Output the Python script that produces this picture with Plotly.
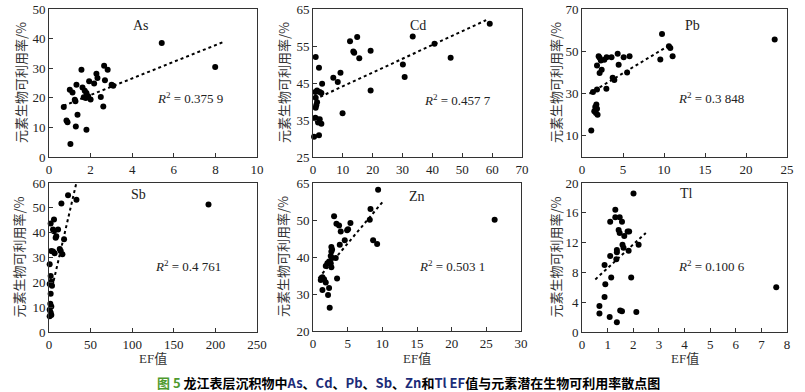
import plotly.graph_objects as go

# ---------------- data ----------------
as_ef = [5.42, 7.99, 2.65, 2.82, 1.56, 2.28, 2.33, 2.69, 1.93, 2.17, 1.32, 3.01, 3.09, 1.0, 1.13, 1.61, 1.72, 1.80, 1.24, 1.27,
         1.67, 1.77, 1.88, 2.0, 2.49, 2.61, 0.71, 1.37, 0.84, 0.89, 1.29, 1.80, 1.03]
as_bio = [38.5, 30.4, 30.8, 29.5, 29.5, 28.1, 26.7, 25.9, 25.6, 24.8, 24.4, 24.4, 24.1, 22.7, 21.8, 23.5, 22.4, 21.6, 19.3, 18.8,
          20.2, 19.9, 20.5, 19.4, 20.3, 17.1, 16.9, 14.3, 12.3, 11.7, 10.3, 9.2, 4.4]
as_trend_x = [0.7, 8.4]
as_trend_y = [17.3, 38.9]

cd_ef = [59.2, 33.4, 40.7, 46.1, 12.4, 14.8, 13.5, 13.8, 15.5, 19.3, 30.1, 30.7, 9.2, 6.8, 8.3, 19.3, 9.9, 0.9, 2.0, 3.05,
         0.8, 1.36, 2.25, 2.8, 0.9, 1.36, 1.1, 0.9, 0.8, 1.36, 2.25, 1.7, 2.8, 2.0, 0.35]
cd_bio = [61.0, 57.6, 55.6, 51.8, 56.3, 57.4, 53.5, 53.2, 51.7, 53.7, 50.0, 46.6, 47.8, 46.4, 45.3, 43.0, 36.8, 52.0, 49.1, 44.8,
          42.6, 43.0, 42.6, 42.3, 41.0, 39.8, 39.0, 38.3, 35.6, 35.2, 35.2, 34.3, 34.0, 30.9, 30.5]
cd_trend_x = [0.6, 58.0]
cd_trend_y = [40.6, 62.0]

pb_ef = [23.5, 9.76, 10.6, 10.77, 9.55, 11.05, 2.03, 2.15, 1.83, 2.3, 3.0, 3.6, 4.35, 5.08, 5.8, 2.72, 4.47, 2.15, 2.4, 2.97,
         3.74, 3.94, 5.5, 1.34, 1.83, 1.62, 1.5, 1.7, 1.83, 1.75, 1.9, 1.13]
pb_bio = [55.6, 58.2, 52.4, 51.6, 46.1, 47.7, 47.7, 46.9, 43.3, 45.7, 47.2, 47.2, 48.8, 47.2, 47.7, 46.0, 43.6, 39.7, 41.3, 32.3,
          37.5, 36.4, 40.0, 30.8, 31.9, 23.7, 21.6, 20.8, 22.8, 24.8, 20.0, 12.5]
pb_trend_x = [0.9, 10.85]
pb_trend_y = [30.0, 53.3]

sb_ef = [191.7, 22.9, 33.0, 14.9, 6.0, 2.0, 4.8, 6.0, 10.9, 8.8, 8.0, 18.1, 12.9, 14.1, 16.1, 2.8, 4.8, 6.8, 0.8, 2.0,
         2.8, 0.8, 3.6, 2.0, 1.6, 2.8, 0.8, 2.0, 2.8, 0.8]
sb_bio = [51.3, 55.1, 53.3, 51.7, 45.3, 43.7, 41.3, 40.6, 41.3, 38.6, 38.0, 37.3, 33.4, 32.6, 31.3, 32.6, 32.4, 31.7, 27.3, 22.6,
          20.2, 19.3, 18.6, 15.4, 11.4, 10.3, 9.0, 7.9, 6.8, 6.3]
sb_trend_x = [4.0, 32.5]
sb_trend_y = [18.3, 59.5]

zn_ef = [9.39, 26.2, 8.29, 8.19, 8.67, 9.25, 3.04, 3.38, 3.76, 4.0, 5.06, 4.92, 5.4, 4.58, 3.86, 2.65, 2.75, 2.65, 2.56, 2.75,
         3.28, 2.32, 2.07, 1.84, 2.56, 2.65, 1.36, 1.6, 1.12, 3.47, 1.84, 1.36, 2.32, 2.17, 2.41]
zn_bio = [58.2, 50.1, 53.0, 50.1, 44.5, 43.5, 51.0, 49.0, 48.5, 46.9, 47.5, 47.2, 49.2, 44.5, 43.3, 42.7, 42.0, 41.5, 40.3, 39.7,
          39.7, 38.8, 38.3, 37.6, 38.3, 37.2, 34.5, 34.0, 33.8, 34.2, 33.1, 31.1, 31.6, 29.7, 26.3]
zn_trend_x = [0.8, 10.0]
zn_trend_y = [34.3, 54.8]

tl_ef = [7.58, 2.01, 1.30, 1.10, 1.30, 1.47, 1.56, 1.43, 1.47, 1.65, 1.78, 1.84, 1.58, 1.62, 2.21, 1.82, 1.36, 1.36, 1.10, 1.34,
         0.88, 1.14, 1.92, 0.91, 0.88, 0.68, 0.68, 1.08, 1.49, 1.56, 2.12, 1.36]
tl_bio = [6.0, 18.6, 16.4, 14.8, 15.4, 15.4, 14.8, 13.7, 13.3, 12.9, 13.5, 13.5, 11.7, 11.3, 11.7, 10.9, 11.0, 10.7, 10.2, 9.75,
          9.0, 7.3, 7.3, 6.4, 4.7, 3.5, 2.5, 2.0, 2.9, 2.8, 2.7, 1.3]
tl_trend_x = [0.52, 2.49]
tl_trend_y = [7.06, 13.3]

elements = ["As", "Cd", "Pb", "Sb", "Zn", "Tl"]
r2_labels = ["0.375 9", "0.457 7", "0.3 848", "0.4 761", "0.503 1", "0.100 6"]

x_ranges = [[0, 10], [0, 70], [0, 25], [0, 250], [0, 30], [0, 8]]
x_ticks = [[0, 2, 4, 6, 8, 10], [0, 10, 20, 30, 40, 50, 60, 70], [0, 5, 10, 15, 20, 25],
           [0, 50, 100, 150, 200, 250], [0, 5, 10, 15, 20, 25, 30], [0, 1, 2, 3, 4, 5, 6, 7, 8]]
y_ranges = [[0, 50], [25, 65], [0, 70], [0, 60], [20, 60], [0, 20]]
y_ticks = [[0, 10, 20, 30, 40, 50], [25, 35, 45, 55, 65], [10, 30, 50, 70],
           [0, 10, 20, 30, 40, 50, 60], [20, 30, 40, 50, 60], [0, 4, 8, 12, 16, 20]]
y_ticktext = [["0", "10", "20", "30", "40", "50"], ["25", "35", "45", "55", "65"], ["10", "30", "50", "70"],
              ["0", "10", "20", "30", "40", "50", "60"], ["20", "30", "40", "50", "65"], ["0", "4", "8", "12", "16", "20"]]

y_title = "元素生物可利用率/%"
x_title = "EF值"

efs = [as_ef, cd_ef, pb_ef, sb_ef, zn_ef, tl_ef]
bios = [as_bio, cd_bio, pb_bio, sb_bio, zn_bio, tl_bio]
trend_xs = [as_trend_x, cd_trend_x, pb_trend_x, sb_trend_x, zn_trend_x, tl_trend_x]
trend_ys = [as_trend_y, cd_trend_y, pb_trend_y, sb_trend_y, zn_trend_y, tl_trend_y]

# ---------------- layout geometry (pixels) ----------------
W, H = 805, 392
px_x = [(49, 257), (313, 522), (582, 787), (49, 257), (313, 521), (582, 787)]
px_y = [(9, 157), (9, 157), (9, 157), (183, 332), (183, 331), (183, 332)]
label_pos = [(0.44, 0.89), (0.50, 0.89), (0.54, 0.89), (0.43, 0.92), (0.50, 0.91), (0.51, 0.93)]
r2_pos = [(0.68, 0.40), (0.69, 0.385), (0.63, 0.40), (0.67, 0.44), (0.67, 0.44), (0.63, 0.44)]
ytitle_x = [20, 283, 555, 18, 283, 555]


def fx(px):
    return px / W


def fy(py):
    return 1 - py / H


serif = "Liberation Serif, Times New Roman, serif"
cjk = "Noto Sans CJK SC"

fig = go.Figure()
layout = dict(width=W, height=H, margin=dict(l=0, r=0, t=0, b=0, autoexpand=False),
              paper_bgcolor="white", plot_bgcolor="white", showlegend=False)
annotations = []

for i in range(6):
    ax = "" if i == 0 else str(i + 1)
    xref, yref = "x" + ax, "y" + ax
    fig.add_trace(go.Scatter(x=efs[i], y=bios[i], mode="markers", xaxis=xref, yaxis=yref,
                             marker=dict(color="black", size=6), cliponaxis=False, hoverinfo="x+y"))
    fig.add_trace(go.Scatter(x=trend_xs[i], y=trend_ys[i], mode="lines", xaxis=xref, yaxis=yref,
                             line=dict(color="black", width=2, dash="dot")))
    xd = [fx(px_x[i][0]), fx(px_x[i][1])]
    yd = [fy(px_y[i][1]), fy(px_y[i][0])]
    common = dict(showline=True, linecolor="#333333", linewidth=1, mirror=True, ticks="inside",
                  ticklen=4, tickcolor="#333333", showgrid=False, zeroline=False, automargin=False,
                  ticklabeloverflow="allow",
                  tickfont=dict(family=serif, size=13, color="#222222"))
    layout["xaxis" + ax] = dict(domain=xd, range=x_ranges[i], tickvals=x_ticks[i],
                                anchor=yref, **common)
    layout["yaxis" + ax] = dict(domain=yd, range=y_ranges[i], tickvals=y_ticks[i],
                                ticktext=y_ticktext[i], anchor=xref, **common)
    annotations.append(dict(text=elements[i], xref=xref + " domain", yref=yref + " domain",
                            x=label_pos[i][0], y=label_pos[i][1], showarrow=False,
                            xanchor="center", yanchor="middle",
                            font=dict(family=serif, size=14, color="#222222")))
    annotations.append(dict(text="<i>R</i><sup>2</sup> = " + r2_labels[i], xref=xref + " domain",
                            yref=yref + " domain", x=r2_pos[i][0], y=r2_pos[i][1], showarrow=False,
                            xanchor="center", yanchor="middle",
                            font=dict(family=serif, size=13, color="#222222")))
    annotations.append(dict(text=y_title, xref="paper", yref="paper", x=fx(ytitle_x[i]),
                            y=(yd[0] + yd[1]) / 2, textangle=-90, showarrow=False,
                            xanchor="center", yanchor="middle",
                            font=dict(family=cjk, size=13, color="#333333")))
    if i >= 3:
        annotations.append(dict(text=x_title, xref="paper", yref="paper",
                                x=(xd[0] + xd[1]) / 2, y=fy(358), showarrow=False,
                                xanchor="center", yanchor="middle",
                                font=dict(family=serif + ", " + cjk, size=13, color="#333333")))

caption = ("<span style='color:#4e9a2e'>图 5</span> 龙江表层沉积物中"
           "<span style='color:#1c2c78'>As</span>、<span style='color:#1c2c78'>Cd</span>、"
           "<span style='color:#1c2c78'>Pb</span>、<span style='color:#1c2c78'>Sb</span>、"
           "<span style='color:#1c2c78'>Zn</span>和<span style='color:#1c2c78'>Tl EF</span>"
           "值与元素潜在生物可利用率散点图")
annotations.append(dict(text="<b>" + caption + "</b>", xref="paper", yref="paper",
                        x=fx(408), y=fy(382), showarrow=False, xanchor="center", yanchor="middle",
                        font=dict(family=cjk, size=13, color="black")))

layout["annotations"] = annotations
fig.update_layout(**layout)
fig.write_html("out.html", config={"displayModeBar": False},
               post_script="document.body.style.margin='0';document.body.style.padding='0';")
